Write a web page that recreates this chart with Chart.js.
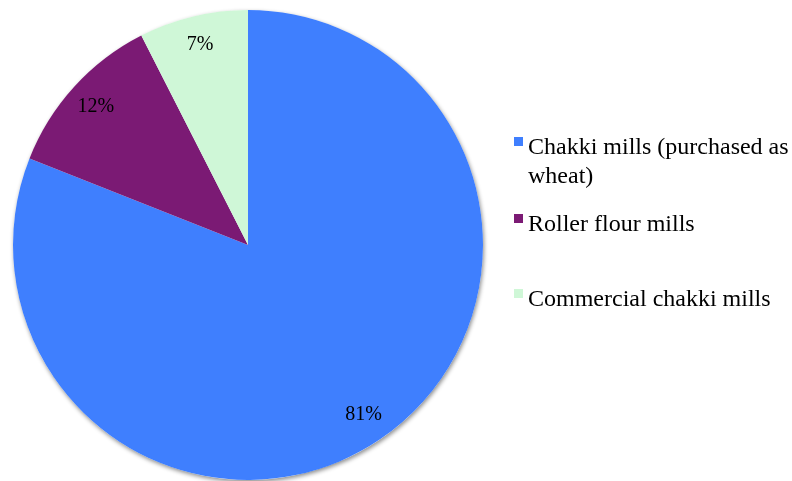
<!DOCTYPE html>
<html>
<head>
<meta charset="utf-8">
<script src="https://cdn.jsdelivr.net/npm/chart.js@4.4.1/dist/chart.umd.min.js"></script>
<style>
  html, body { margin: 0; padding: 0; background: #fff; }
  #wrap { position: relative; width: 792px; height: 481px; }
  #legend { position: absolute; left: 514px; top: 133px; width: 278px;
    font-family: "Liberation Serif", "Times New Roman", serif; font-size: 24px; color: #000; }
  .item { position: absolute; left: 0; width: 278px; line-height: 29px; }
  .item span.box { position: absolute; left: 0; top: 5px; width: 9px; height: 9px; }
  .item span.txt { display: block; padding-left: 14px; }
</style>
</head>
<body>
<div id="wrap">
  <canvas id="chart" width="792" height="481"></canvas>
  <div id="legend"></div>
</div>
<script>
// Données
const labels = ['Chakki mills (purchased as wheat)', 'Roller flour mills', 'Commercial chakki mills'];
const values = [81, 11.5, 7.5];
const valueLabels = ['81%', '12%', '7%'];
const colors = ['#3F7FFE', '#7B1A74', '#CFF7D7'];
const legendTops = [-1, 76, 151];

// Ombre sous le camembert
const shadowPlugin = {
  id: 'pieShadow',
  beforeDatasetsDraw(chart) {
    const arc = chart.getDatasetMeta(0).data[0];
    if (!arc) return;
    const ctx = chart.ctx;
    ctx.save();
    ctx.shadowColor = 'rgba(0,0,0,0.45)';
    ctx.shadowBlur = 4;
    ctx.shadowOffsetX = 1;
    ctx.shadowOffsetY = 2;
    ctx.fillStyle = '#fff';
    ctx.beginPath();
    ctx.arc(arc.x, arc.y, arc.outerRadius, 0, Math.PI * 2);
    ctx.fill();
    ctx.restore();
  }
};

// Étiquettes des pourcentages
const labelPlugin = {
  id: 'pctLabels',
  afterDatasetsDraw(chart) {
    const ctx = chart.ctx;
    ctx.save();
    ctx.font = '20px "Liberation Serif", "Times New Roman", serif';
    ctx.fillStyle = '#000';
    ctx.textAlign = 'center';
    ctx.textBaseline = 'middle';
    chart.getDatasetMeta(0).data.forEach((arc, i) => {
      const mid = (arc.startAngle + arc.endAngle) / 2;
      const r = arc.outerRadius * 0.875;
      ctx.fillText(valueLabels[i], arc.x + Math.cos(mid) * r, arc.y + Math.sin(mid) * r);
    });
    ctx.restore();
  }
};

new Chart(document.getElementById('chart').getContext('2d'), {
  type: 'pie',
  data: {
    labels: labels,
    datasets: [{
      data: values,
      backgroundColor: colors,
      borderWidth: 0
    }]
  },
  options: {
    responsive: false,
    animation: false,
    layout: { padding: { left: 0, right: 296, top: 10, bottom: 1 } },
    plugins: {
      legend: { display: false },
      tooltip: { enabled: false }
    }
  },
  plugins: [shadowPlugin, labelPlugin]
});

// Légende HTML
const legend = document.getElementById('legend');
labels.forEach((lab, i) => {
  const item = document.createElement('div');
  item.className = 'item';
  item.style.top = legendTops[i] + 'px';
  item.innerHTML = '<span class="box" style="background:' + colors[i] + '"></span><span class="txt">' + lab + '</span>';
  legend.appendChild(item);
});
</script>
</body>
</html>
